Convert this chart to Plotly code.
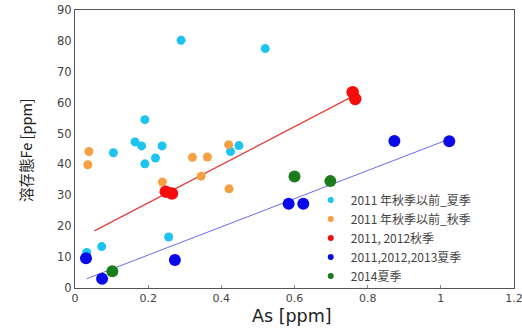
import plotly.graph_objects as go

# --- data ---
cyan_x = [0.29, 0.52, 0.191, 0.164, 0.182, 0.238, 0.105, 0.22, 0.191, 0.425, 0.448, 0.256, 0.073, 0.032]
cyan_y = [80.2, 77.5, 54.5, 47.3, 46.0, 46.0, 43.8, 42.1, 40.2, 44.2, 46.1, 16.5, 13.4, 11.5]

orange_x = [0.038, 0.035, 0.321, 0.362, 0.42, 0.239, 0.345, 0.421]
orange_y = [44.2, 39.9, 42.3, 42.4, 46.4, 34.3, 36.2, 32.1]

red_x = [0.248, 0.265, 0.759, 0.766]
red_y = [31.2, 30.6, 63.4, 61.2]

blue_x = [0.030, 0.074, 0.273, 0.584, 0.624, 0.873, 1.023]
blue_y = [9.6, 3.0, 9.1, 27.3, 27.3, 47.6, 47.5]

green_x = [0.102, 0.600, 0.698]
green_y = [5.4, 36.1, 34.6]

red_trend_x = [0.053, 0.755]
red_trend_y = [18.5, 61.8]
blue_trend_x = [0.032, 1.014]
blue_trend_y = [3.0, 47.8]

x_ticks = [0, 0.2, 0.4, 0.6, 0.8, 1.0, 1.2]
x_tick_text = ["0", "0.2", "0.4", "0.6", "0.8", "1", "1.2"]
y_ticks = [0, 10, 20, 30, 40, 50, 60, 70, 80, 90]

names = ["2011 年秋季以前_夏季", "2011 年秋季以前_秋季", "2011, 2012秋季",
         "2011,2012,2013夏季", "2014夏季"]
colors = ["#1cc4ef", "#f7a043", "#f50d0d", "#0a0ae8", "#1b7c1b"]

fig = go.Figure()

fig.add_trace(go.Scatter(x=red_trend_x, y=red_trend_y, mode="lines",
                         line=dict(color="#e8403a", width=1.3), showlegend=False, hoverinfo="skip"))
fig.add_trace(go.Scatter(x=blue_trend_x, y=blue_trend_y, mode="lines",
                         line=dict(color="#6a6af0", width=1), showlegend=False, hoverinfo="skip"))

series = [(cyan_x, cyan_y, 9), (orange_x, orange_y, 9), (red_x, red_y, 12.5),
          (blue_x, blue_y, 12), (green_x, green_y, 12)]
for (xs, ys, sz), nm, c in zip(series, names, colors):
    fig.add_trace(go.Scatter(x=xs, y=ys, mode="markers", name=nm, showlegend=False,
                             marker=dict(color=c, size=sz, line=dict(width=0))))
# legend entries with small markers
for nm, c in zip(names, colors):
    fig.add_trace(go.Scatter(x=[None], y=[None], mode="markers", name=nm,
                             marker=dict(color=c, size=6, line=dict(width=0))))

fig.update_layout(
    width=522, height=329,
    margin=dict(l=75, r=8, t=10, b=41, autoexpand=False),
    paper_bgcolor="white", plot_bgcolor="white",
    font=dict(family="Noto Sans CJK JP, Arial", color="#333333"),
    legend=dict(x=0.537, y=0.369, xanchor="left", yanchor="top",
                bgcolor="rgba(0,0,0,0)", font=dict(size=12, color="#444444",
                                                    family="Noto Sans CJK JP"),
                itemsizing="trace", tracegroupgap=0, itemwidth=30),
    showlegend=True,
    annotations=[
        dict(text="溶存態Fe [ppm]", xref="paper", yref="paper", x=-0.114, y=0.496,
             xanchor="center", yanchor="middle", textangle=-90, showarrow=False,
             font=dict(size=14.5, color="#222222", family="Noto Sans CJK JP")),
        dict(text="As [ppm]", xref="paper", yref="paper", x=0.494, y=-0.1,
             xanchor="center", yanchor="middle", showarrow=False,
             font=dict(size=17.5, color="#222222", family="DejaVu Sans")),
    ],
)
fig.update_xaxes(range=[0, 1.2], tickvals=x_ticks, ticktext=x_tick_text, automargin=False,
                 showgrid=False, zeroline=False, showline=True, linecolor="#555555",
                 linewidth=1, mirror=True, ticks="inside", ticklen=3, tickcolor="#888888",
                 ticklabeloverflow="allow",
                 tickfont=dict(size=11, color="#444444", family="DejaVu Sans"))
fig.update_yaxes(range=[0, 90], tickvals=y_ticks, automargin=False,
                 showgrid=False, zeroline=False, showline=True, linecolor="#555555",
                 linewidth=1, mirror=True, ticks="",
                 tickfont=dict(size=11.5, color="#444444", family="DejaVu Sans"))

fig.write_html("out.html", post_script="document.body.style.margin='0';",
               config={"displayModeBar": False})
